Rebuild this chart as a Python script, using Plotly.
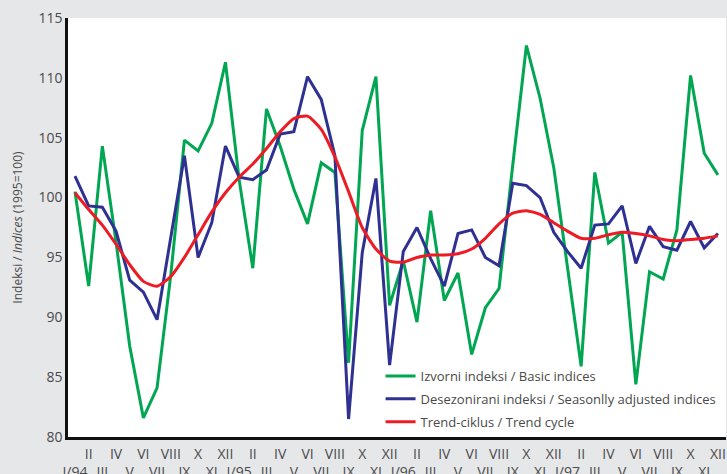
import plotly.graph_objects as go

months = ["I/94", "II", "III", "IV", "V", "VI", "VII", "VIII", "IX", "X", "XI", "XII",
          "I/95", "II", "III", "IV", "V", "VI", "VII", "VIII", "IX", "X", "XI", "XII",
          "I/96", "II", "III", "IV", "V", "VI", "VII", "VIII", "IX", "X", "XI", "XII",
          "I/97", "II", "III", "IV", "V", "VI", "VII", "VIII", "IX", "X", "XI", "XII"]

basic = [100.5, 92.6, 104.3, 96.3, 87.6, 81.6, 84.1, 93.5, 104.8, 103.9, 106.2, 111.3,
         101.5, 94.1, 107.4, 104.3, 100.7, 97.8, 102.9, 102.1, 86.2, 105.6, 110.1, 91.0,
         94.7, 89.6, 98.9, 91.4, 93.7, 86.9, 90.8, 92.4, 102.7, 112.7, 108.3, 102.5,
         94.2, 85.9, 102.1, 96.2, 97.1, 84.4, 93.8, 93.2, 97.3, 110.2, 103.7, 101.9]

adjusted = [101.8, 99.3, 99.2, 97.2, 93.1, 92.1, 89.8, 96.7, 103.5, 95.0, 97.9, 104.3,
            101.7, 101.5, 102.3, 105.3, 105.5, 110.1, 108.2, 103.5, 81.5, 95.4, 101.6, 86.0,
            95.5, 97.5, 94.9, 92.6, 97.0, 97.3, 95.0, 94.3, 101.2, 101.0, 100.0, 97.1,
            95.5, 94.1, 97.7, 97.8, 99.3, 94.5, 97.6, 95.9, 95.6, 98.0, 95.8, 97.0]

trend = [100.4, 99.0, 97.7, 96.1, 94.4, 93.0, 92.6, 93.4, 95.0, 96.9, 98.8, 100.4,
         101.7, 102.8, 104.1, 105.5, 106.6, 106.8, 105.7, 103.4, 100.5, 97.5, 95.7, 94.7,
         94.6, 95.0, 95.2, 95.2, 95.3, 95.7, 96.6, 97.8, 98.7, 98.9, 98.6, 97.9,
         97.2, 96.6, 96.6, 96.9, 97.1, 97.0, 96.8, 96.5, 96.4, 96.5, 96.6, 96.8]

series_names = ["Izvorni indeksi / Basic indices",
                "Desezonirani indeksi / Seasonlly adjusted indices",
                "Trend-ciklus / Trend cycle"]
y_ticks = [80, 85, 90, 95, 100, 105, 110, 115]

x = list(range(len(months)))
# even-position months on upper row, odd-position on lower row
tick_text = [m if i % 2 == 1 else "<br>" + m for i, m in enumerate(months)]

FONT = "Open Sans, Lato, sans-serif"
TXT = "#4a4a4a"
fig = go.Figure()
fig.add_trace(go.Scatter(x=x, y=basic, mode="lines", name=series_names[0], legendgroup="a",
                         line=dict(color="#00a651", width=3)))
fig.add_trace(go.Scatter(x=x, y=adjusted, mode="lines", name=series_names[1], legendgroup="b",
                         line=dict(color="#2e3192", width=3)))
fig.add_trace(go.Scatter(x=x, y=trend, mode="lines", name=series_names[2], legendgroup="c",
                         line=dict(color="#ed1c24", width=3, shape="spline", smoothing=0.6)))

fig.update_layout(
    width=727, height=474,
    margin=dict(l=68, r=1, t=18, b=37),
    paper_bgcolor="#e6e7e9",
    plot_bgcolor="#ffffff",
    font=dict(family=FONT, size=14, color=TXT),
    showlegend=True,
    legend=dict(x=0.475, y=0.0, xanchor="left", yanchor="bottom",
                bgcolor="rgba(0,0,0,0)", borderwidth=0,
                font=dict(family=FONT, size=13, color=TXT),
                tracegroupgap=3),
    xaxis=dict(range=[-0.51, 47.59], tickmode="array", tickvals=x, ticktext=tick_text,
               showgrid=False, zeroline=False, showline=True, linecolor="#111111",
               linewidth=3, ticks="", tickfont=dict(size=14, color=TXT),
               tickangle=0, ticklabelstandoff=2, automargin=False),
    yaxis=dict(range=[80, 115], tickmode="array", tickvals=y_ticks,
               showgrid=False, zeroline=False, showline=True, linecolor="#111111",
               linewidth=2.5, ticks="", tickfont=dict(size=14, color=TXT),
               automargin=False,
               title=dict(text="Indeksi / <i>Indices</i> (1995=100)",
                          font=dict(size=12, color=TXT), standoff=14)),
)

fig.write_html("out.html", config={"displayModeBar": False},
               post_script="document.body.style.margin='0';document.body.style.overflow='hidden';")
